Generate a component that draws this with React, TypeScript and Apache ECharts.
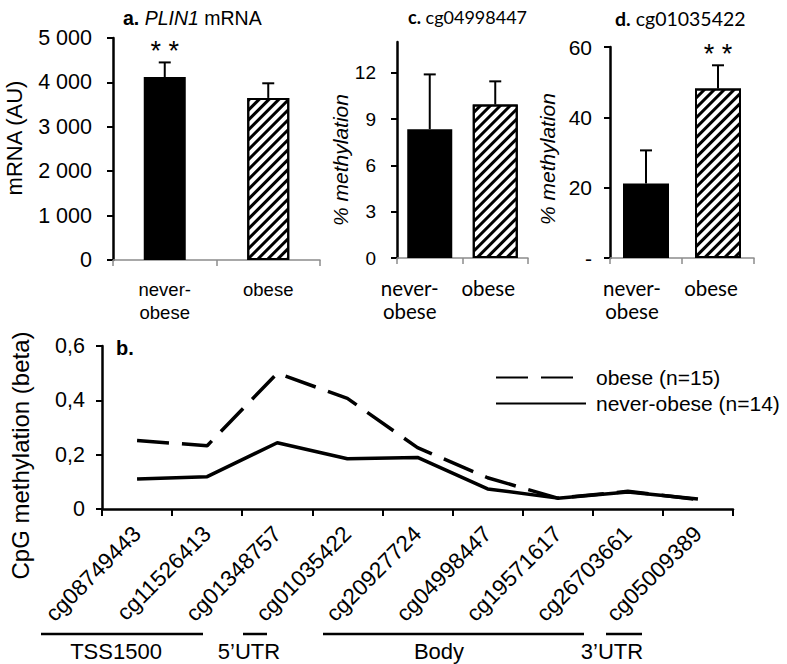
import React, { useEffect, useRef } from 'react';
import * as echarts from 'echarts';

// ---------- data ----------
const groups = ['never-\nobese', 'obese'];
const plinMean = [4120, 3650];
const plinErrTop = [4450, 3980];
const plinSig = ['* *', ''];
const cg04998447Mean = [8.35, 9.95];
const cg04998447ErrTop = [11.9, 11.45];
const cg04998447Sig = ['', ''];
const cg01035422Mean = [21.2, 48.2];
const cg01035422ErrTop = [30.6, 54.8];
const cg01035422Sig = ['', '* *'];

const cpgSites = ['cg08749443', 'cg11526413', 'cg01348757', 'cg01035422', 'cg20927724', 'cg04998447', 'cg19571617', 'cg26703661', 'cg05009389'];
const obeseBeta = [0.252, 0.233, 0.5, 0.407, 0.226, 0.115, 0.04, 0.065, 0.035];
const neverObeseBeta = [0.11, 0.119, 0.244, 0.185, 0.19, 0.074, 0.04, 0.063, 0.037];
const seriesNames = ['obese (n=15)', 'never-obese (n=14)'];
const regionLabels = ['TSS1500', '5\u2019UTR', 'Body', '3\u2019UTR'];

// ---------- layout (pixels) ----------
const regionLayout = [
  { x1: 41, x2: 203, tx: 116 },
  { x1: 243, x2: 267, tx: 249 },
  { x1: 323, x2: 584, tx: 439 },
  { x1: 606, x2: 642, tx: 612 },
];
const labelShiftC = [20, 7];
const labelShiftD = [14, 7];
const ARIAL = '"Liberation Sans", Arial, sans-serif';
const CALIBRI = 'Lato, "Open Sans", sans-serif';

const hatch: any = {
  symbol: 'rect',
  symbolSize: 1,
  color: '#000',
  backgroundColor: '#fff',
  dashArrayX: [1, 0],
  dashArrayY: [3, 4],
  rotation: -Math.PI / 4,
};

function barSeries(idx: number, values: number[], width: number) {
  return {
    type: 'bar',
    xAxisIndex: idx,
    yAxisIndex: idx,
    barWidth: width,
    itemStyle: { borderColor: '#000', borderWidth: 2 },
    data: values.map((v, i) => ({
      value: v,
      itemStyle: i === 0 ? { color: '#000' } : { color: '#fff', decal: hatch },
    })),
    z: 2,
  };
}

function errorSeries(idx: number, means: number[], tops: number[], sig: string[]) {
  return {
    type: 'custom',
    xAxisIndex: idx,
    yAxisIndex: idx,
    data: means.map((m, i) => [i, m, tops[i]]),
    encode: { x: 0, y: [1, 2] },
    z: 3,
    renderItem: (params: any, api: any) => {
      const i = api.value(0);
      const base = api.coord([i, api.value(1)]);
      const top = api.coord([i, api.value(2)]);
      const cap = 6;
      const children: any[] = [
        { type: 'line', shape: { x1: base[0], y1: base[1], x2: top[0], y2: top[1] }, style: { stroke: '#000', lineWidth: 2 } },
        { type: 'line', shape: { x1: top[0] - cap, y1: top[1], x2: top[0] + cap, y2: top[1] }, style: { stroke: '#000', lineWidth: 2 } },
      ];
      const s = sig[params.dataIndex];
      if (s) {
        children.push({
          type: 'text',
          x: top[0],
          y: top[1] + 2,
          style: { text: s, fontSize: 27, fontFamily: ARIAL, fill: '#000', align: 'center', verticalAlign: 'bottom' },
        });
      }
      return { type: 'group', children };
    },
  };
}

function barXAxis(idx: number, font: string, size: number, shifts?: number[]) {
  return {
    type: 'category',
    gridIndex: idx,
    data: groups.map((g, i) =>
      shifts ? { value: g, textStyle: { padding: [0, shifts[i] * 2, 0, 0] } } : g
    ),
    axisLine: { lineStyle: { color: '#8c8c8c', width: 1.5 } },
    axisTick: { show: true, length: 6, lineStyle: { color: '#8c8c8c', width: 1.5 } },
    axisLabel: { interval: 0, fontSize: size, fontFamily: font, color: '#000', lineHeight: 23, margin: 18 },
  };
}

function barYAxis(idx: number, extra: any) {
  return {
    type: 'value',
    gridIndex: idx,
    min: 0,
    splitLine: { show: false },
    axisLine: { show: true, lineStyle: { color: '#000', width: 2.5 } },
    axisTick: { show: true, length: 6, lineStyle: { color: '#000', width: 2 } },
    nameLocation: 'middle',
    nameRotate: 90,
    ...extra,
  };
}

const thousands = (v: number) => {
  if (v === 0) return '0';
  const k = Math.floor(v / 1000);
  const r = String(v % 1000).padStart(3, '0');
  return `${k} ${r}`;
};

export default function App() {
  const ref = useRef<HTMLDivElement>(null);
  useEffect(() => {
    if (!ref.current) return;
    const chart = echarts.init(ref.current, undefined, { renderer: 'svg' });
    const option: any = {
      animation: false,
      backgroundColor: '#fff',
      title: [
        {
          text: '{b|a.} {i|PLIN1} mRNA', left: 118, top: 3,
          textStyle: {
            fontSize: 19.5, fontFamily: ARIAL, fontWeight: 'normal', color: '#000',
            rich: {
              b: { fontSize: 19.5, fontFamily: ARIAL, fontWeight: 'bold', color: '#000' },
              i: { fontSize: 19.5, fontFamily: ARIAL, fontStyle: 'italic', color: '#000' },
            },
          },
        },
        {
          text: '{b|c.} cg04998447', left: 403, top: 3,
          textStyle: {
            fontSize: 18, fontFamily: CALIBRI, fontWeight: 'normal', color: '#000',
            rich: { b: { fontSize: 18, fontFamily: CALIBRI, fontWeight: 'bold', color: '#000' } },
          },
        },
        {
          text: '{b|d.} cg01035422', left: 610, top: 3,
          textStyle: {
            fontSize: 19.5, fontFamily: CALIBRI, fontWeight: 'normal', color: '#000',
            rich: { b: { fontSize: 19.5, fontFamily: CALIBRI, fontWeight: 'bold', color: '#000' } },
          },
        },
        {
          text: 'b.', left: 111, top: 333,
          textStyle: { fontSize: 20, fontFamily: ARIAL, fontWeight: 'bold', color: '#000' },
        },
      ],
      legend: {
        data: seriesNames,
        orient: 'vertical',
        left: 490,
        top: 362,
        itemWidth: 90,
        itemHeight: 14,
        itemGap: 5,
        itemStyle: { opacity: 0 },
        textStyle: { fontSize: 21, fontFamily: ARIAL, color: '#000', padding: [0, 0, 0, 5] },
      },
      grid: [
        { left: 113, top: 38, width: 207, height: 222 },
        { left: 397, top: 42, width: 131, height: 216 },
        { left: 610, top: 47, width: 144, height: 211 },
        { left: 97, top: 346, width: 636, height: 163 },
      ],
      xAxis: [
        barXAxis(0, ARIAL, 18.5),
        barXAxis(1, CALIBRI, 20.5, labelShiftC),
        barXAxis(2, CALIBRI, 20.5, labelShiftD),
        {
          type: 'category',
          gridIndex: 3,
          data: cpgSites,
          axisLine: { lineStyle: { color: '#000', width: 2.5 } },
          axisTick: { show: true, length: 7, lineStyle: { color: '#000', width: 2 } },
          axisLabel: { interval: 0, rotate: 45, fontSize: 22.5, fontFamily: ARIAL, color: '#000', margin: 21 },
        },
      ],
      yAxis: [
        barYAxis(0, {
          max: 5000, interval: 1000,
          name: 'mRNA (AU)', nameGap: 88,
          nameTextStyle: { fontSize: 22, fontFamily: ARIAL, color: '#000', padding: [0, 0, 0, 22] },
          axisLabel: { fontSize: 21.5, fontFamily: ARIAL, color: '#000', margin: 21, formatter: thousands },
        }),
        barYAxis(1, {
          max: 14, interval: 3,
          name: '% methylation', nameGap: 44,
          nameTextStyle: { fontSize: 21, fontFamily: ARIAL, fontStyle: 'italic', color: '#000', padding: [0, 20, 0, 0] },
          axisTick: { show: true, length: 6, lineStyle: { color: '#000', width: 2 }, customValues: [0, 3, 6, 9, 12] },
          axisLabel: {
            fontSize: 19, fontFamily: ARIAL, color: '#000', margin: 21, customValues: [0, 3, 6, 9, 12],
            formatter: (v: number) => (v > 12 ? '' : String(v)),
          },
        }),
        barYAxis(2, {
          max: 60, interval: 20,
          name: '% methylation', nameGap: 52,
          nameTextStyle: { fontSize: 21, fontFamily: ARIAL, fontStyle: 'italic', color: '#000', padding: [0, 13, 0, 0] },
          axisLabel: {
            fontSize: 21, fontFamily: ARIAL, color: '#000', margin: 18,
            formatter: (v: number) => (v === 0 ? '-' : String(v)),
          },
        }),
        {
          type: 'value',
          gridIndex: 3,
          min: 0, max: 0.6, interval: 0.2,
          splitLine: { show: false },
          axisLine: { show: true, lineStyle: { color: '#000', width: 2.5 } },
          axisTick: { show: true, length: 6, lineStyle: { color: '#000', width: 2 } },
          axisLabel: {
            fontSize: 21.5, fontFamily: ARIAL, color: '#000', margin: 17,
            formatter: (v: number) => (v === 0 ? '0' : v.toFixed(1).replace('.', ',')),
          },
          name: 'CpG methylation (beta)',
          nameLocation: 'middle',
          nameRotate: 90,
          nameGap: 70,
          nameTextStyle: { fontSize: 24, fontFamily: ARIAL, color: '#000', padding: [0, 56, 0, 0] },
        },
      ],
      series: [
        barSeries(0, plinMean, 42),
        errorSeries(0, plinMean, plinErrTop, plinSig),
        barSeries(1, cg04998447Mean, 45),
        errorSeries(1, cg04998447Mean, cg04998447ErrTop, cg04998447Sig),
        barSeries(2, cg01035422Mean, 46),
        errorSeries(2, cg01035422Mean, cg01035422ErrTop, cg01035422Sig),
        {
          type: 'line', name: seriesNames[0], xAxisIndex: 3, yAxisIndex: 3,
          data: obeseBeta, symbol: 'none',
          lineStyle: { color: '#000', width: 3.5, type: [32, 13] },
          itemStyle: { color: '#000' },
        },
        {
          type: 'line', name: seriesNames[1], xAxisIndex: 3, yAxisIndex: 3,
          data: neverObeseBeta, symbol: 'none',
          lineStyle: { color: '#000', width: 3.5 },
          itemStyle: { color: '#000' },
        },
      ],
      graphic: regionLayout.flatMap((r, i) => [
        { type: 'line', shape: { x1: r.x1, y1: 634, x2: r.x2, y2: 634 }, style: { stroke: '#000', lineWidth: 2.5 } },
        {
          type: 'text', x: r.tx, y: 651,
          style: { text: regionLabels[i], fontSize: 22, fontFamily: ARIAL, fill: '#000', align: 'center', verticalAlign: 'middle' },
        },
      ]),
    };
    chart.setOption(option);
    return () => chart.dispose();
  }, []);
  return <div ref={ref} style={{ position: 'absolute', left: 0, top: 0, width: 787, height: 664 }} />;
}
